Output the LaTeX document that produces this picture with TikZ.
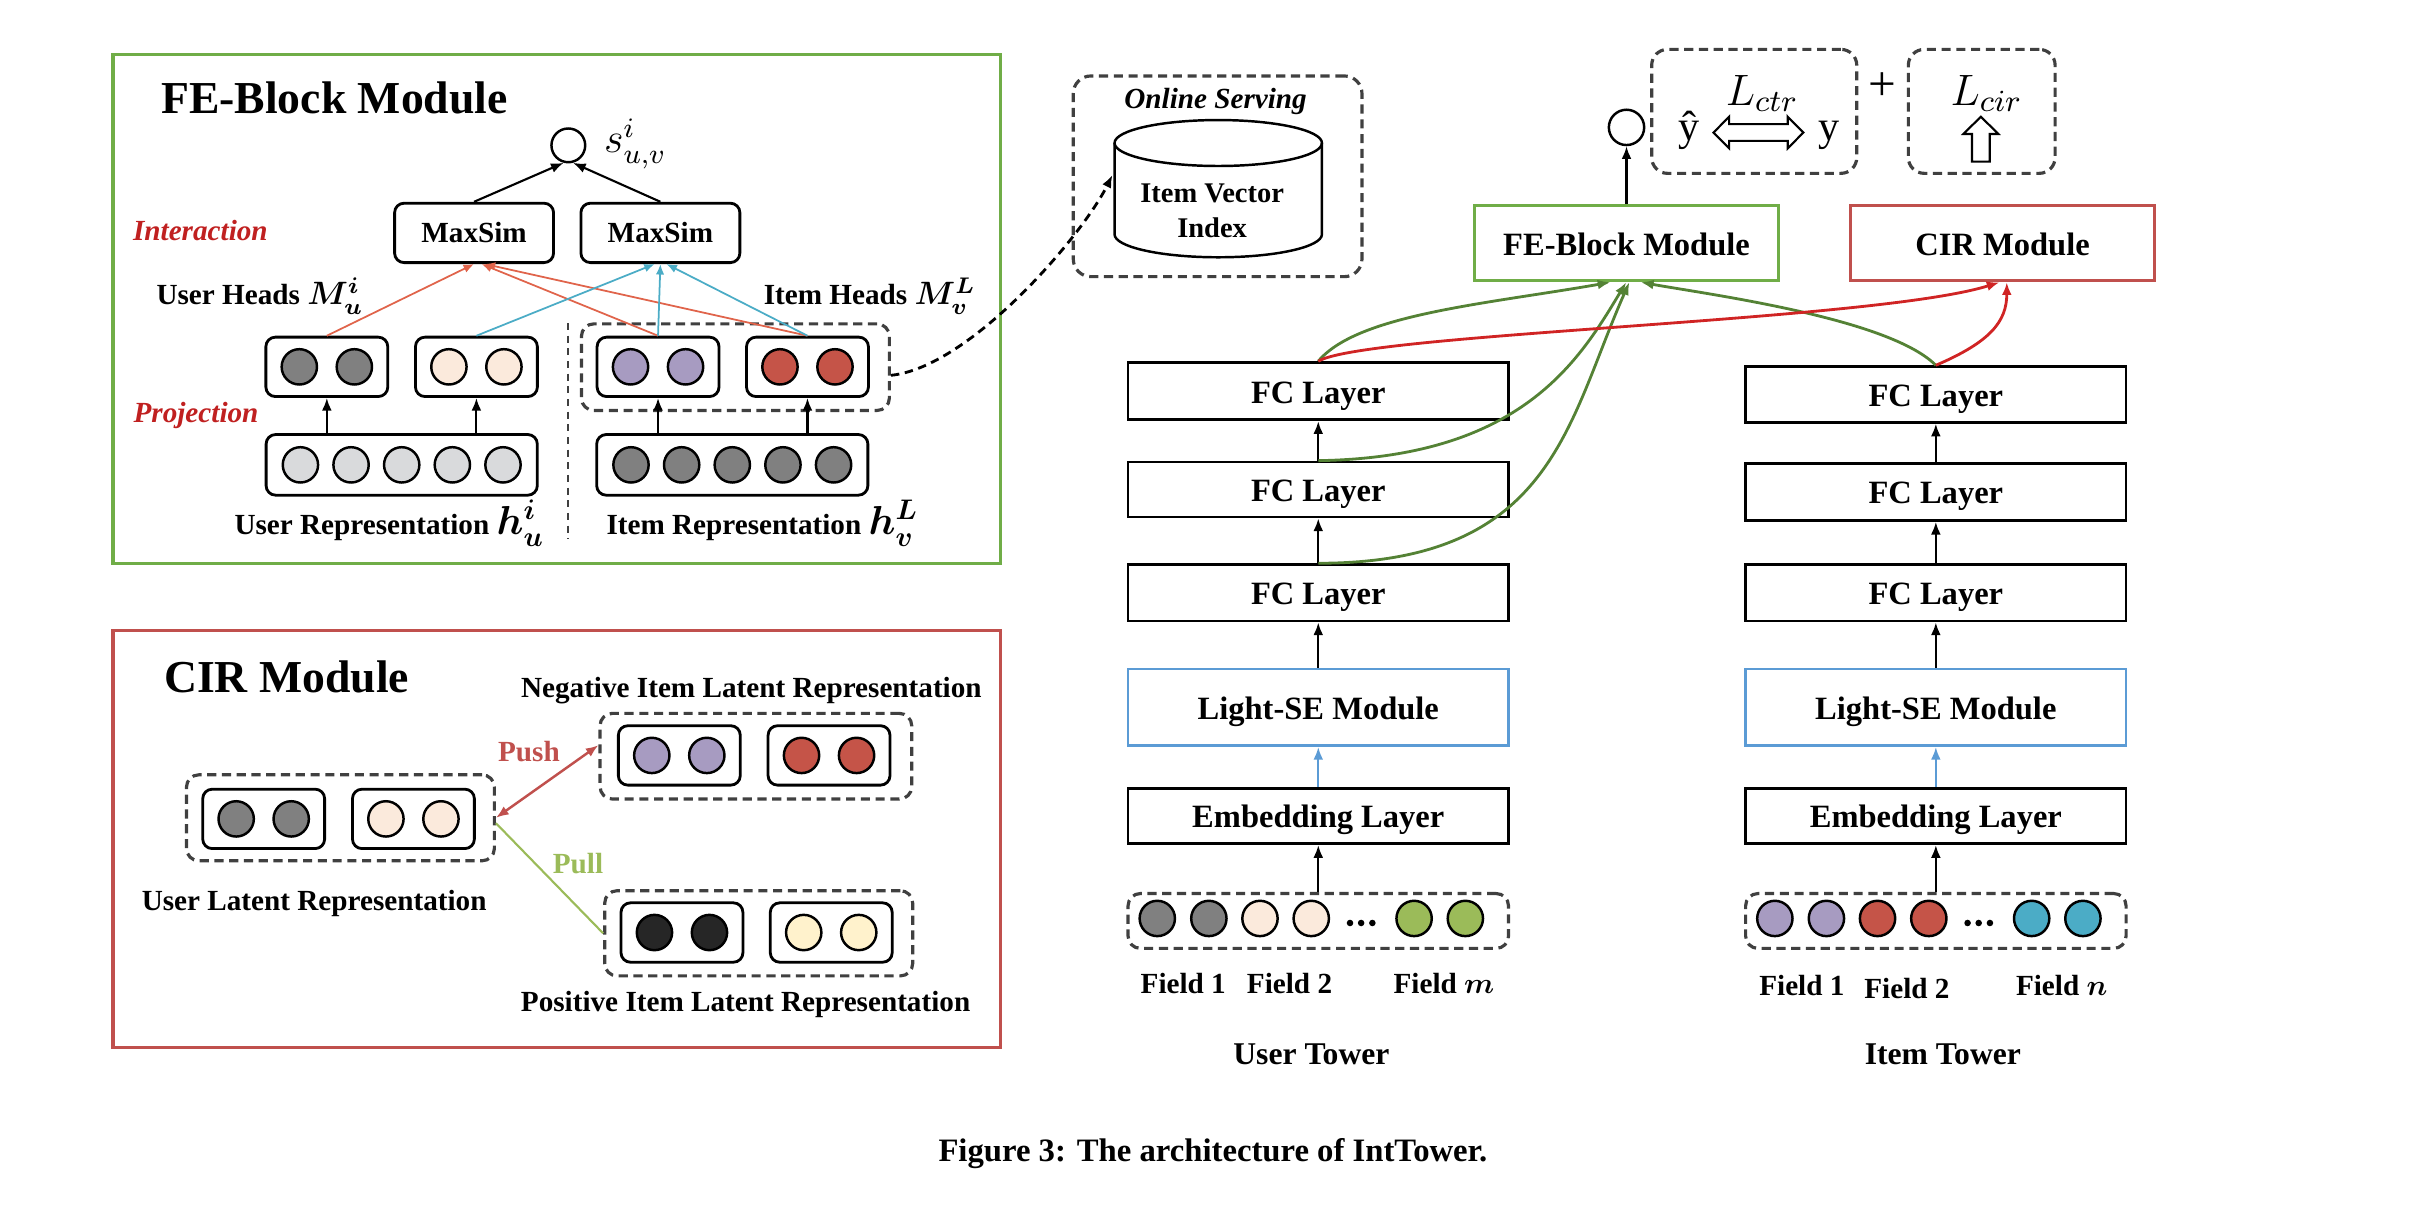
\RequirePackage{fix-cm}
\documentclass[tikz,border=0pt]{standalone}
\usepackage{amsmath}
\usepackage{fontspec}
\setmainfont{Liberation Serif}
\usepackage{tikz}
\usetikzlibrary{arrows.meta,positioning}

\definecolor{fegreen}{RGB}{112,173,71}
\definecolor{cirred}{RGB}{192,80,77}
\definecolor{seblue}{RGB}{91,155,213}
\definecolor{dashgray}{RGB}{64,64,64}
\definecolor{cgray}{RGB}{128,128,128}
\definecolor{cpeach}{RGB}{251,234,220}
\definecolor{clight}{RGB}{217,218,220}
\definecolor{cpurple}{RGB}{167,155,193}
\definecolor{cred}{RGB}{197,84,72}
\definecolor{cgreen}{RGB}{155,187,89}
\definecolor{cteal}{RGB}{75,172,198}
\definecolor{cblack}{RGB}{38,38,38}
\definecolor{ccream}{RGB}{255,242,204}
\definecolor{txtred}{RGB}{192,32,32}
\definecolor{lnred}{RGB}{224,100,75}
\definecolor{lnblue}{RGB}{75,172,198}
\definecolor{crvgreen}{RGB}{84,130,53}
\definecolor{crvred}{RGB}{208,36,36}

\newcommand{\dpx}{0.015625cm}

\tikzset{
  panel/.style={draw, line width=0.9pt, minimum width=568*\dpx, inner sep=0pt},
  dbox/.style={draw=dashgray, line width=0.9pt, dash pattern=on 2.6pt off 1.6pt, rounded corners=3.5pt, inner sep=0pt},
  pbox/.style={draw, line width=0.8pt, rounded corners=2.7pt, minimum width=78*\dpx, minimum height=38*\dpx, inner sep=0pt},
  bead/.style={circle, draw, line width=0.7pt, minimum size=22.6*\dpx, inner sep=0pt},
  layer/.style={draw, line width=0.8pt, minimum width=243.4*\dpx, inner sep=0pt, text height=0.68em, text depth=0pt, font=\fontsize{9.25}{11}\selectfont\bfseries},
  lbl/.style={inner sep=0pt, font=\fontsize{8.3}{10}\selectfont\bfseries},
  redlbl/.style={inner sep=0pt, anchor=base, text=txtred, font=\fontsize{8.3}{10}\selectfont\bfseries\itshape},
  ttl/.style={inner sep=0pt, anchor=base west, font=\fontsize{13}{15}\selectfont\bfseries},
  twr/.style={inner sep=0pt, anchor=base, font=\fontsize{9}{11}\selectfont\bfseries},
  flow/.style={->, line width=0.6pt},
  headln/.style={-{Latex[length=3pt,width=2.4pt]}, line width=0.5pt},
  crv/.style={-{Latex[length=3.6pt,width=2.8pt]}, line width=0.8pt},
}

\begin{document}
\begin{tikzpicture}[x=\dpx, y=-\dpx, >={Latex[length=3.6pt,width=2.8pt]}]
\useasboundingbox (0,0) rectangle (1552.1,772.2);

% FE-Block panel
\node[panel, draw=fegreen, minimum height=325.6*\dpx] (fepanel) at (356.25,197.7) {};
\node[ttl] (fetitle) at (102.6,72.5) {FE-Block Module};

\node[circle, draw, line width=0.7pt, minimum size=21.6*\dpx, inner sep=0pt] (sv) at (363.6,93) {};
\node[anchor=west, inner sep=0pt, font=\fontsize{12}{14}\selectfont] (svlbl) at (386,92) {$s_{u,v}^{i}$};

\node[pbox, minimum width=101.7*\dpx, font=\fontsize{8.3}{10}\selectfont\bfseries] (ms1) at (303.3,149) {MaxSim};
\node[pbox, minimum width=101.7*\dpx, font=\fontsize{8.3}{10}\selectfont\bfseries] (ms2) at (422.5,149) {MaxSim};
\draw[flow] (ms1.north) -- (sv.-105);
\draw[flow] (ms2.north) -- (sv.-75);

% heads and latent pairs
\foreach \nm/\cx/\cy/\cc in {uh1/209.1/234.7/cgray, uh2/304.8/234.7/cpeach, ih1/421/234.7/cpurple, ih2/516.6/234.7/cred,
    nb1/434.6/483.3/cpurple, nb2/530.4/483.3/cred, ub1/168.7/523.9/cgray, ub2/264.5/523.9/cpeach,
    pb1/436.3/596.6/cblack, pb2/531.8/596.6/ccream}{
  \node[pbox] (\nm) at (\cx,\cy) {};
  \node[bead, fill=\cc] (\nm a) at (\cx-17.6,\cy) {};
  \node[bead, fill=\cc] (\nm b) at (\cx+17.6,\cy) {};
}
\node[dbox, minimum width=197*\dpx, minimum height=55.4*\dpx] (ihbox) at (470.5,234.9) {};

\node[pbox, minimum width=173.5*\dpx, minimum height=38.8*\dpx] (urep) at (257,297.4) {};
\node[pbox, minimum width=173.5*\dpx, minimum height=38.8*\dpx] (irep) at (468.5,297.4) {};
\foreach \k in {-2,...,2}{
  \node[bead, fill=clight] (ur\k) at (257+32.4*\k,297.4) {};
  \node[bead, fill=cgray] (ir\k) at (468.5+32.4*\k,297.4) {};
}

\foreach \nm/\rp in {uh1/urep, uh2/urep, ih1/irep, ih2/irep}
  \draw[flow] (\nm.south |- \rp.north) -- (\nm.south);

\draw[headln, lnred] (uh1.north) -- (ms1.south);
\draw[headln, lnred] (ih1.north) -- ([xshift=2.1pt]ms1.south);
\draw[headln, lnred] (ih2.north) -- ([xshift=3pt]ms1.south);
\draw[headln, lnblue] (uh2.north) -- ([xshift=-1.6pt]ms2.south);
\draw[headln, lnblue] (ih1.north) -- (ms2.south);
\draw[headln, lnblue] (ih2.north) -- ([xshift=1.7pt]ms2.south);

\draw[dashgray, line width=0.5pt, dash pattern=on 2pt off 1.6pt] (363.6,206.7) -- (363.6,344.5);

\node[redlbl] (inter) at (128.2,153.6) {Interaction};
\node[redlbl] (proj) at (125.4,270.3) {Projection};
\node[lbl, anchor=base west] (uhlbl) at (99.7,195) {User Heads {\fontsize{9.2}{11}\selectfont\boldmath$M_{u}^{i}$}};
\node[lbl, anchor=base west] (ihlbl) at (488.2,195) {Item Heads {\fontsize{9.2}{11}\selectfont\boldmath$M_{v}^{L}$}};
\node[lbl, anchor=base west] (urlbl) at (149.6,341.8) {User Representation {\fontsize{11.5}{13}\selectfont\boldmath$h_{u}^{i}$}};
\node[lbl, anchor=base west] (irlbl) at (387.6,341.8) {Item Representation {\fontsize{11.5}{13}\selectfont\boldmath$h_{v}^{L}$}};

% online serving
\node[dbox, rounded corners=5pt, minimum width=184.7*\dpx, minimum height=128.4*\dpx] (olbox) at (779,112.8) {};
\node[inner sep=0pt, anchor=base, font=\fontsize{8.3}{10}\selectfont\bfseries\itshape] (ollbl) at (777.7,69.3) {Online Serving};
\draw[line width=0.7pt] (779.4,91.5) ellipse [x radius=66.35, y radius=14.7];
\draw[line width=0.7pt] (713.05,91.5) -- (713.05,149.9) arc [start angle=180, end angle=0, x radius=66.35, y radius=14.7] -- (845.75,91.5);
\node[align=center, inner sep=0pt, font=\fontsize{8.1}{10.2}\selectfont\bfseries] (ivi) at (775.5,134.9) {Item Vector\\Index};
\coordinate (ivil) at (711.7,112);
\draw[->, line width=0.8pt, dash pattern=on 2.4pt off 1.6pt] (ihbox.-3) .. controls +(50,-5) and +(-20,40) .. (ivil);

% CIR panel
\node[panel, draw=cirred, minimum height=266.8*\dpx] (cirpanel) at (356.25,536.9) {};
\node[ttl] (cirtitle) at (104.5,443.2) {CIR Module};
\node[dbox, minimum width=199.4*\dpx, minimum height=54.8*\dpx] (negbox) at (483.6,483.8) {};
\node[dbox, minimum width=197*\dpx, minimum height=55*\dpx] (ulbox) at (217.8,523.2) {};
\node[dbox, minimum width=197*\dpx, minimum height=54.5*\dpx] (posbox) at (485.4,597.1) {};
\node[lbl, anchor=base] (neglbl) at (480.7,446.1) {Negative Item Latent Representation};
\node[lbl, anchor=base] (ullbl) at (201,582.2) {User Latent Representation};
\node[lbl, anchor=base] (poslbl) at (477,647.3) {Positive Item Latent Representation};
\draw[<->, cirred, line width=0.7pt] (ulbox.east) -- (negbox.176);
\draw[cgreen, line width=0.6pt] (ulbox.-2) -- (posbox.west);
\node[lbl, anchor=base, text=cirred] (push) at (338.4,486.9) {Push};
\node[lbl, anchor=base, text=cgreen] (pull) at (369.8,558.7) {Pull};

% losses
\node[dbox, rounded corners=4.5pt, minimum width=131.2*\dpx, minimum height=79.3*\dpx] (lctr) at (1122.3,71.25) {};
\node[dbox, rounded corners=4.5pt, minimum width=93.9*\dpx, minimum height=79.3*\dpx] (lcir) at (1267.85,71.25) {};
\node[inner sep=0pt, anchor=base, font=\fontsize{12.5}{14}\selectfont] (lctrlbl) at (1127.4,67.2) {$L_{ctr}$};
\node[inner sep=0pt, anchor=base, font=\fontsize{12.5}{14}\selectfont] (lcirlbl) at (1271,67.2) {$L_{cir}$};
\node[inner sep=0pt, anchor=base, font=\fontsize{12}{14}\selectfont] (yhat) at (1080.7,89.6) {ŷ};
\node[inner sep=0pt, anchor=base, font=\fontsize{12}{14}\selectfont] (ytrue) at (1170.2,89.6) {y};
\node[inner sep=0pt, font=\fontsize{14}{16}\selectfont] (plus) at (1204.4,55.5) {+};
\draw[line width=0.6pt, fill=white] (1125,84.8) ++(-28.75,0) -- ++(10,-10.1) -- ++(0,4.75) -- ++(37.5,0) -- ++(0,-4.75) -- ++(10,10.1) -- ++(-10,10.1) -- ++(0,-4.75) -- ++(-37.5,0) -- ++(0,4.75) -- cycle;
\draw[line width=0.6pt, fill=white] (1267.3,74.7) -- ++(11.2,11) -- ++(-5.55,0) -- ++(0,17.7) -- ++(-11.3,0) -- ++(0,-17.7) -- ++(-5.55,0) -- cycle;

\node[circle, draw, line width=0.7pt, minimum size=22.6*\dpx, inner sep=0pt] (oc) at (1040.6,81.5) {};
\node[layer, draw=fegreen, line width=0.9pt, minimum width=194.5*\dpx, minimum height=48*\dpx] (feb) at (1040.6,155.6) {FE-Block Module};
\node[layer, draw=cirred, line width=0.9pt, minimum width=194.4*\dpx, minimum height=48*\dpx] (cirb) at (1281.2,155.6) {CIR Module};
\draw[flow] (feb.north) -- (oc.south);

% user tower
\node[layer, minimum height=36.6*\dpx] (ufc1) at (843.4,250.3) {FC Layer};
\node[layer, minimum height=35.2*\dpx] (ufc2) at (843.4,313.2) {FC Layer};
\node[layer, minimum height=36.1*\dpx] (ufc3) at (843.4,379.3) {FC Layer};
\node[layer, draw=seblue, minimum height=49.1*\dpx] (use) at (843.4,452.5) {Light-SE Module};
\node[layer, minimum height=35.6*\dpx] (uemb) at (843.4,522) {Embedding Layer};
\node[dbox, minimum width=243.4*\dpx, minimum height=35.1*\dpx] (ufield) at (843.4,589.2) {};

% item tower
\node[layer, minimum height=35.6*\dpx] (ifc1) at (1238.5,252.4) {FC Layer};
\node[layer, minimum height=36.6*\dpx] (ifc2) at (1238.5,314.7) {FC Layer};
\node[layer, minimum height=36.1*\dpx] (ifc3) at (1238.5,379.3) {FC Layer};
\node[layer, draw=seblue, minimum height=49.1*\dpx] (ise) at (1238.5,452.5) {Light-SE Module};
\node[layer, minimum height=35.6*\dpx] (iemb) at (1238.5,522) {Embedding Layer};
\node[dbox, minimum width=243.4*\dpx, minimum height=35.1*\dpx] (ifield) at (1238.5,589.2) {};

\foreach \t in {u,i}{
  \draw[flow] (\t field.north) -- (\t emb.south);
  \draw[flow, seblue] (\t emb.north) -- (\t se.south);
  \draw[flow] (\t se.north) -- (\t fc3.south);
  \draw[flow] (\t fc3.north) -- (\t fc2.south);
  \draw[flow] (\t fc2.north) -- (\t fc1.south);
}

\foreach \dx/\ca/\cb in {-103/cgray/cpurple, -70/cgray/cpurple, -37.3/cpeach/cred, -4.5/cpeach/cred, 61.3/cgreen/cteal, 94.1/cgreen/cteal}{
  \node[bead, fill=\ca] (uf\dx) at (843.4+\dx,587.6) {};
  \node[bead, fill=\cb] (if\dx) at (1238.5+\dx,587.6) {};
}
\foreach \dx in {20.3,27.4,34.6}{
  \fill (843.4+\dx,590.5) circle [radius=2.1];
  \fill (1238.5+\dx,590.5) circle [radius=2.1];
}

\node[lbl, anchor=base] (uf1) at (757,635.6) {Field 1};
\node[lbl, anchor=base] (uf2) at (825,635.6) {Field 2};
\node[lbl, anchor=base] (ufm) at (923.8,635.6) {Field {\boldmath$m$}};
\node[lbl, anchor=base] (if1) at (1152.8,637.2) {Field 1};
\node[lbl, anchor=base] (if2) at (1220,638.5) {Field 2};
\node[lbl, anchor=base] (ifn) at (1319,637.2) {Field {\boldmath$n$}};
\node[twr] (utower) at (839,681) {User Tower};
\node[twr] (itower) at (1243,681) {Item Tower};

% connections to the modules
\draw[crv, crvgreen] (ufc1.north) .. controls +(25,-30) and +(-80,14) .. ([xshift=-4.6pt]feb.south);
\draw[crv, crvgreen] (ufc2.north) .. controls +(130,-2) and +(-30,50) .. ([xshift=-0.1pt]feb.south);
\draw[crv, crvgreen] (ufc3.north) .. controls +(150,0) and +(-40,90) .. ([xshift=0.8pt]feb.south);
\draw[crv, crvgreen] (ifc1.north) .. controls +(-30,-30) and +(45,8) .. ([xshift=4.1pt]feb.south);
\draw[crv, crvred] (ufc1.north) .. controls +(30,-18) and +(-80,25) .. ([xshift=-0.9pt]cirb.south);
\draw[crv, crvred] (ifc1.north) .. controls +(35,-15) and +(0,25) .. ([xshift=1.2pt]cirb.south);

\node[inner sep=0pt, anchor=base, font=\fontsize{9.3}{11}\selectfont\bfseries] (caption) at (776,743) {Figure 3: The architecture of IntTower.};

\end{tikzpicture}
\end{document}
